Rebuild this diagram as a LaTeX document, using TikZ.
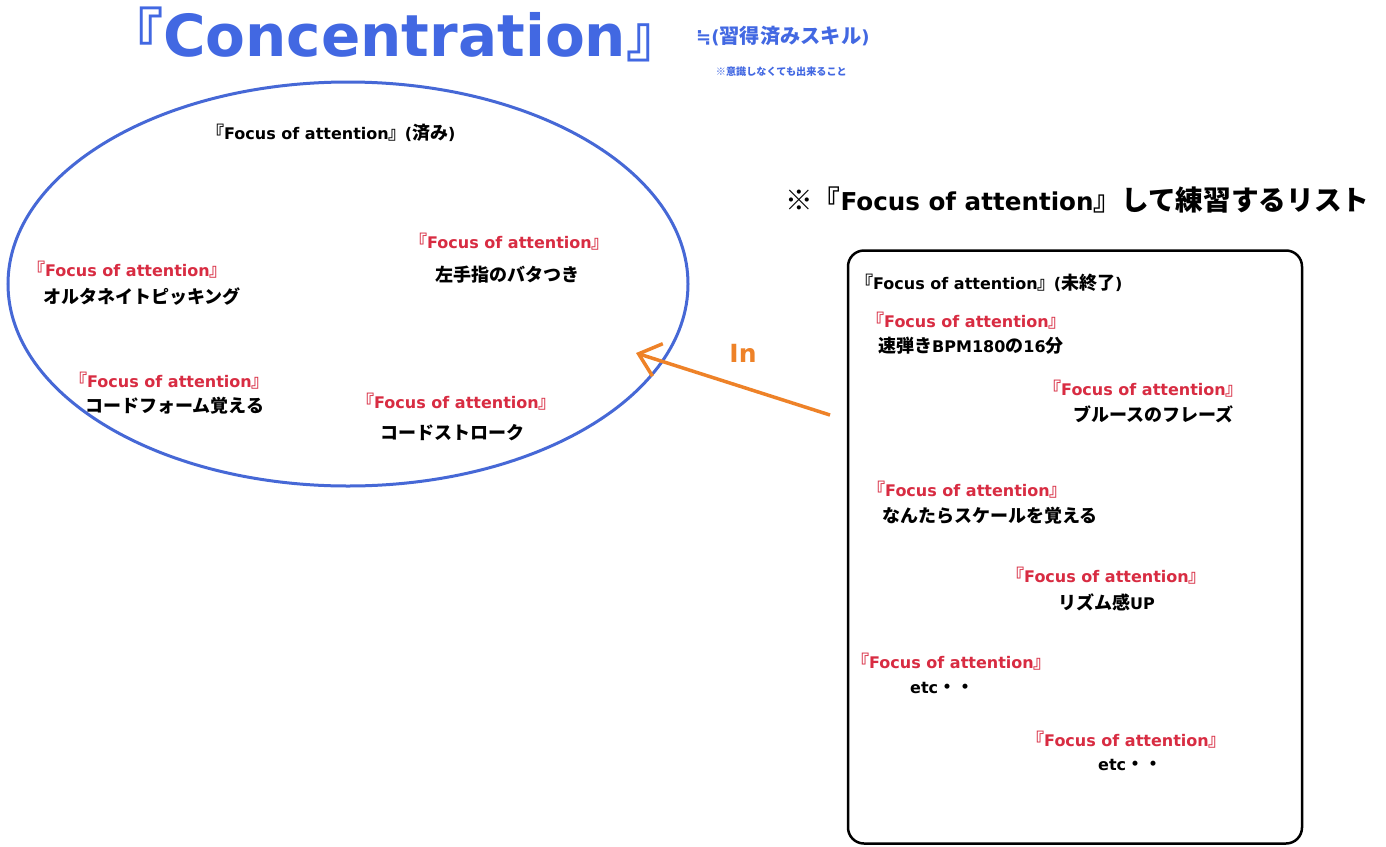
\documentclass[tikz,border=0pt]{standalone}
\usepackage{fontspec}
\setmainfont{DejaVu Sans}
\newfontfamily\jp{Noto Sans CJK JP}[Scale=1.125]
\newfontfamily\jph{Noto Sans CJK JP}[Scale=1.125,RawFeature=+halt]
\newfontfamily\jpt{Noto Sans CJK JP}[RawFeature=+halt]
\newcommand\LBk{{\jph 『}}
\newcommand\RBk{{\jph 』}}
\newcommand\FOAtext{\LBk Focus of attention\RBk}
\usetikzlibrary{shapes.geometric,arrows.meta}
\definecolor{tblue}{RGB}{66,104,226}
\definecolor{eblue}{RGB}{70,104,214}
\definecolor{ered}{RGB}{216,44,66}
\definecolor{aorange}{RGB}{238,130,40}
\begin{document}
\begin{tikzpicture}[x=1pt,y=-1pt,
  lbl/.style={inner sep=0pt, anchor=west, font=\fontsize{16}{19}\selectfont\bfseries},
  foa/.style={lbl, text=ered},
  arrowline/.style={draw=aorange, line width=3.5pt, -{Straight Barb[length=20pt,width=34pt,line width=3.5pt]}}]
\useasboundingbox (0,0) rectangle (1386,846);
\fill[white] (0,0) rectangle (1386,846);

% title
\node[inner sep=0pt, text=tblue, font=\fontsize{58}{64}\selectfont\bfseries, anchor=west] (title) at (134,34) {{\jpt 『}Concentration{\jpt 』}};
\node[inner sep=0pt, text=tblue, font=\fontsize{18}{22}\selectfont\bfseries, anchor=west] (sub) at (696,36) {≒({\jp 習得済みスキル})};
\node[inner sep=0pt, text=tblue, font=\fontsize{9}{11}\selectfont\bfseries, anchor=east] (note) at (847,72) {\jp ※意識しなくても出来ること};

% ellipse
\node[draw=eblue, line width=3pt, ellipse, minimum width=680pt, minimum height=404pt, inner sep=0pt] (ell) at (348,284) {};
\node[lbl] (h1) at (215,133) {\FOAtext\hspace{7pt}({\jp 済み})};
\node[foa] (r1) at (418,242) {\FOAtext};
\node[lbl] (t1) at (435,275) {\jp 左手指のバタつき};
\node[foa] (r2) at (36,270) {\FOAtext};
\node[lbl] (t2) at (43,297) {\jp オルタネイトピッキング};
\node[foa] (r3) at (78,381) {\FOAtext};
\node[lbl] (t3) at (85,406) {\jp コードフォーム覚える};
\node[foa] (r4) at (365,402) {\FOAtext};
\node[lbl] (t4) at (380,433) {\jp コードストローク};

% heading right
\node[inner sep=0pt, font=\fontsize{24.6}{28}\selectfont\bfseries, anchor=west] (h2) at (785,200) {{\jp ※『}Focus of attention{\jp 』して練習するリスト}};

% box
\node[draw=black, line width=2.5pt, rounded corners=16pt, minimum width=454pt, minimum height=593pt, inner sep=0pt] (box) at (1075,547) {};
\node[lbl] (h3) at (864,283) {\FOAtext\hspace{7pt}({\jp 未終了})};
\node[foa] (b1) at (875,321) {\FOAtext};
\node[lbl] (c1) at (878,346) {{\jp 速弾き}BPM180{\jp の}16{\jp 分}};
\node[foa] (b2) at (1052,389) {\FOAtext};
\node[lbl] (c2) at (1073,414) {\jp ブルースのフレーズ};
\node[foa] (b3) at (876,490) {\FOAtext};
\node[lbl] (c3) at (882,516) {\jp なんたらスケールを覚える};
\node[foa] (b4) at (1015,576) {\FOAtext};
\node[lbl] (c4) at (1058,602) {{\jp リズム感}UP};
\node[foa] (b5) at (860,662) {\FOAtext};
\node[lbl] (c5) at (910,688) {etc{\jp ・・}};
\node[foa] (b6) at (1035,740) {\FOAtext};
\node[lbl] (c6) at (1098,765) {etc{\jp ・・}};

% arrow
\coordinate (arrS) at (830,415);
\coordinate (arrE) at (636,353);
\draw[arrowline] (arrS) -- (arrE);
\node[inner sep=0pt, text=aorange, font=\fontsize{25}{28}\selectfont\bfseries] (in) at (743,353) {In};
\end{tikzpicture}
\end{document}
